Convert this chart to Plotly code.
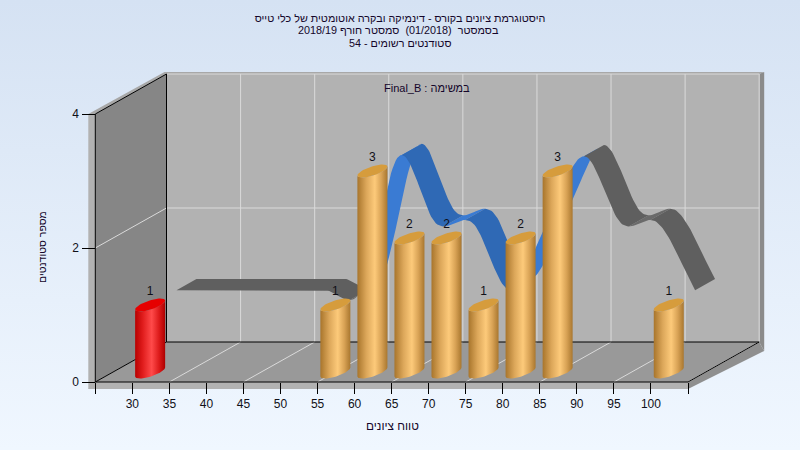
import numpy as np
import plotly.graph_objects as go

# ---- data ----
categories = [30, 35, 40, 45, 50, 55, 60, 65, 70, 75, 80, 85, 90, 95, 100]
bar_values = [1, 0, 0, 0, 0, 1, 3, 2, 2, 1, 2, 3, 0, 0, 1]
ribbon_values = [1, 1, 1, 1, 1, 1, 3, 2, 2, 1, 2, 3, 2, 2, 1]
y_ticks = [0, 2, 4]
title_lines = [
    "היסטוגרמת ציונים בקורס - דינמיקה ובקרה אוטומטית של כלי טייס",
    "בסמסטר  (01/2018)  סמסטר חורף 2018/19",
    "סטודנטים רשומים - 54",
]
list_label = "Final_B : במשימה"
x_title = "טווח ציונים"
y_title = "מספר סטודנטים"

# ---- geometry of the pseudo-3D box ----
W, H = 800, 450
X_LEFT, X_RIGHT, Y_BASE, Y_TOP = 95.3, 688.0, 382.0, 114.0
UX = (X_RIGHT - X_LEFT) / 80.0      # px per category unit
UY = (Y_BASE - Y_TOP) / 4.0         # px per value unit
DX, DY = 71.2 / UX, 40.0 / UY       # full box depth in data units
XR = [25 - X_LEFT / UX, 25 + (W - X_LEFT) / UX]
YR = [-(H - Y_BASE) / UY, Y_BASE / UY]
XMIN, XMAX = 25, 105


def P(x, y, d=0.0, ox=0.0, oy=0.0):
    """Data coordinates of category x, value y at depth d, nudged by pixels."""
    return x + d * DX + ox / UX, y + d * DY - oy / UY


fig = go.Figure()


def poly(points, color=None, grad=None):
    xs = [p[0] for p in points] + [points[0][0]]
    ys = [p[1] for p in points] + [points[0][1]]
    kw = {"fillgradient": grad} if grad else {"fillcolor": color}
    fig.add_trace(go.Scatter(x=xs, y=ys, mode="lines", line=dict(width=0), fill="toself",
                             hoverinfo="skip", showlegend=False, **kw))


def lines(segs, color, width=1.0):
    xs, ys = [], []
    for a, b in segs:
        xs += [a[0], b[0], None]
        ys += [a[1], b[1], None]
    fig.add_trace(go.Scatter(x=xs, y=ys, mode="lines", line=dict(color=color, width=width),
                             hoverinfo="skip", showlegend=False))


# page background
poly([(XR[0], YR[0]), (XR[1], YR[0]), (XR[1], YR[1]), (XR[0], YR[1])],
     grad=dict(type="vertical", colorscale=[[0, "#f0f7ff"], [1, "#d5e2f3"]]))

# outer rim of the box
T = 7.0
poly([P(XMIN, 4, 0, -T), P(XMIN, 4), P(XMIN, 4, 1), P(XMAX, 4, 1), P(XMAX, 4, 1, 5, -2), P(XMIN, 4, 1, -2, -2)], "#a8a8a8")
poly([P(XMIN, 4, 0, -T), P(XMIN, 4), P(XMIN, 0, 0, 0, T), P(XMIN, 0, 0, -T, T)], "#b2b2b2")
poly([P(XMIN, 0, 0, -T, T), P(XMAX, 0, 0, 0, T), P(XMAX, 0), P(XMIN, 0)], "#b2b2b2")
poly([P(XMAX, 4, 1), P(XMAX, 4, 1, 5, -2), P(XMAX, 0, 1, 5, 9), P(XMAX, 0, 1)], "#8b8b8b")
poly([P(XMAX, 0), P(XMAX, 0, 1), P(XMAX, 0, 1, 5, 9), P(XMAX, 0, 0, 0, T)], "#8f8f8f")

# walls and floor
poly([P(XMIN, 0), P(XMIN, 4), P(XMIN, 4, 1), P(XMIN, 0, 1)], "#868686")
poly([P(XMIN, 0, 1), P(XMIN, 4, 1), P(XMAX, 4, 1), P(XMAX, 0, 1)], "#b2b2b2")
poly([P(XMIN, 0), P(XMIN, 0, 1), P(XMAX, 0, 1), P(XMAX, 0)], "#999999")

# grid
grid_x = list(range(35, 106, 10))
segs = [(P(x, 0, 1), P(x, 4, 1)) for x in grid_x] + [(P(x, 0), P(x, 0, 1)) for x in grid_x]
segs += [(P(XMIN, 2), P(XMIN, 2, 1)), (P(XMIN, 2, 1), P(XMAX, 2, 1)), (P(XMIN, 4, 1), P(XMAX, 4, 1))]
lines(segs, "#dadada", 1)

# black box edges
lines([(P(XMIN, 0), P(XMIN, 4)), (P(XMIN, 4), P(XMIN, 4, 1)), (P(XMIN, 4, 1), P(XMIN, 0, 1)),
       (P(XMIN, 0), P(XMIN, 0, 1)), (P(XMIN, 0, 1), P(XMAX, 0, 1)), (P(XMAX, 0), P(XMAX, 0, 1)),
       (P(XMIN, 0), P(XMAX, 0))], "#000000", 1)


# ribbon: the value series as a smooth band standing further back in the box
def smooth(xs, ys, n=24):
    xs, ys = np.array(xs, float), np.array(ys, float)
    m = np.gradient(ys, xs, edge_order=1)
    m[1:-1] = (ys[2:] - ys[:-2]) / (xs[2:] - xs[:-2])
    out_x, out_y = [], []
    for i in range(len(xs) - 1):
        h = xs[i + 1] - xs[i]
        for t in np.linspace(0, 1, n, endpoint=False):
            a = 2 * t**3 - 3 * t**2 + 1
            b = t**3 - 2 * t**2 + t
            c = -2 * t**3 + 3 * t**2
            e = t**3 - t**2
            out_x.append(xs[i] + t * h)
            out_y.append(a * ys[i] + b * h * m[i] + c * ys[i + 1] + e * h * m[i + 1])
    out_x.append(xs[-1])
    out_y.append(ys[-1])
    return np.array(out_x), np.array(out_y)


D1, D2 = 0.62, 0.90
sx, sy = smooth(categories, ribbon_values)


def ribbon_color(x_mid, rising):
    if 55 <= x_mid <= 85:
        return "#3a7bd3" if rising else "#2f69b5"
    return "#6a6a6a" if rising else "#5f5f5f"


runs, start = [], 0
def key(i):
    return (sy[i + 1] - sy[i] > 1e-6, 55 <= sx[i] < 85)
for i in range(1, len(sx) - 1):
    if key(i) != key(start):
        runs.append((start, i))
        start = i
runs.append((start, len(sx) - 1))
runs.sort(key=lambda r: not key(r[0])[0])  # rising faces lie behind falling faces
for a, b in runs:
    idx = range(a, b + 1)
    pts = [P(sx[i], sy[i], D1) for i in idx] + [P(sx[i], sy[i], D2) for i in reversed(idx)]
    poly(pts, ribbon_color(sx[a] + 1e-6, key(a)[0]))

# cylinders
BAR_D = 0.25
R, SK, BK = 15.0, 4.5, 4.7
GOLD = [[0, "#a8752c"], [0.3, "#dca75a"], [0.58, "#fdca7a"], [0.8, "#d8a255"], [1, "#a9772f"]]
RED = [[0, "#b80000"], [0.25, "#e01c1c"], [0.55, "#ff4a4a"], [0.8, "#dc1a1a"], [1, "#ad0000"]]
for i, (c, v) in enumerate(zip(categories, bar_values)):
    if v == 0:
        continue
    first = i == 0
    grad = dict(type="horizontal", colorscale=RED if first else GOLD)
    t_low = np.linspace(np.pi, 2 * np.pi, 30)
    t_up = np.linspace(0, 2 * np.pi, 60)
    low = [P(c, 0, BAR_D, R * np.cos(t), -SK * np.cos(t) - BK * np.sin(t)) for t in t_low]
    top_side = [P(c, v, BAR_D, R * np.cos(t), -SK * np.cos(t) - BK * np.sin(t)) for t in t_low[::-1]]
    poly(low + top_side, grad=grad)
    cap = [P(c, v, BAR_D, R * np.cos(t), -SK * np.cos(t) - BK * np.sin(t)) for t in t_up]
    poly(cap, "#e60000" if first else "#d69c3c")

shown = [(c, v) for c, v in zip(categories, bar_values) if v > 0]
lx = [P(c, v, BAR_D, 0, -13)[0] for c, v in shown]
ly = [P(c, v, BAR_D, 0, -13)[1] for c, v in shown]
fig.add_trace(go.Scatter(x=lx, y=ly, mode="text", text=[str(v) for _, v in shown],
                         textposition="middle center", cliponaxis=False, hoverinfo="skip",
                         showlegend=False, textfont=dict(size=12, color="#101018", family="Liberation Sans")))

TXT = "#14062a"
FONT = "Liberation Sans"
def note(text, px, py, angle=0, size=10.8):
    fig.add_annotation(x=px / W, y=1 - py / H, xref="paper", yref="paper", text=text, showarrow=False,
                       textangle=angle, xanchor="center", yanchor="middle",
                       font=dict(family=FONT, size=size, color=TXT))

note(title_lines[1], 398, 30)
note(title_lines[2], 399.5, 43)
note(list_label, 427, 88, size=11)
note(x_title, 392, 426, size=11.8)
note(y_title, 42, 247, -90, size=10.5)

fig.update_layout(
    width=W, height=H, margin=dict(l=0, r=0, t=0, b=0, pad=0),
    paper_bgcolor="#e6eff9", plot_bgcolor="rgba(0,0,0,0)", showlegend=False, hovermode=False,
    font=dict(family=FONT, size=12, color="#101018"),
    title=dict(text=title_lines[0], x=0.5, xanchor="center", xref="paper", y=1 - 18 / H, yanchor="middle",
               yref="paper", font=dict(family=FONT, size=10.8, color=TXT)),
    xaxis=dict(range=XR, domain=[0, 1], anchor="free", position=1 - Y_BASE / H, showgrid=False, zeroline=False,
               showline=False, ticks="outside", ticklen=11, tickcolor="#000000", tickwidth=1,
               tickmode="array", tickvals=[25] + categories + [105], ticktext=[""] + [str(c) for c in categories] + [""],
               tickfont=dict(family=FONT, size=12, color="#101018"), fixedrange=True),
    yaxis=dict(range=YR, domain=[0, 1], anchor="free", position=X_LEFT / W, showgrid=False, zeroline=False,
               showline=False, ticks="outside", ticklen=13, tickcolor="#000000", tickwidth=1,
               tickmode="array", tickvals=y_ticks, ticktext=[str(t) for t in y_ticks], ticklabelstandoff=1,
               tickfont=dict(family=FONT, size=12, color="#101018"), fixedrange=True),
)
fig.write_html("out.html", config={"displayModeBar": False},
               post_script="document.documentElement.style.margin='0';document.body.style.margin='0';document.body.style.overflow='hidden';")
